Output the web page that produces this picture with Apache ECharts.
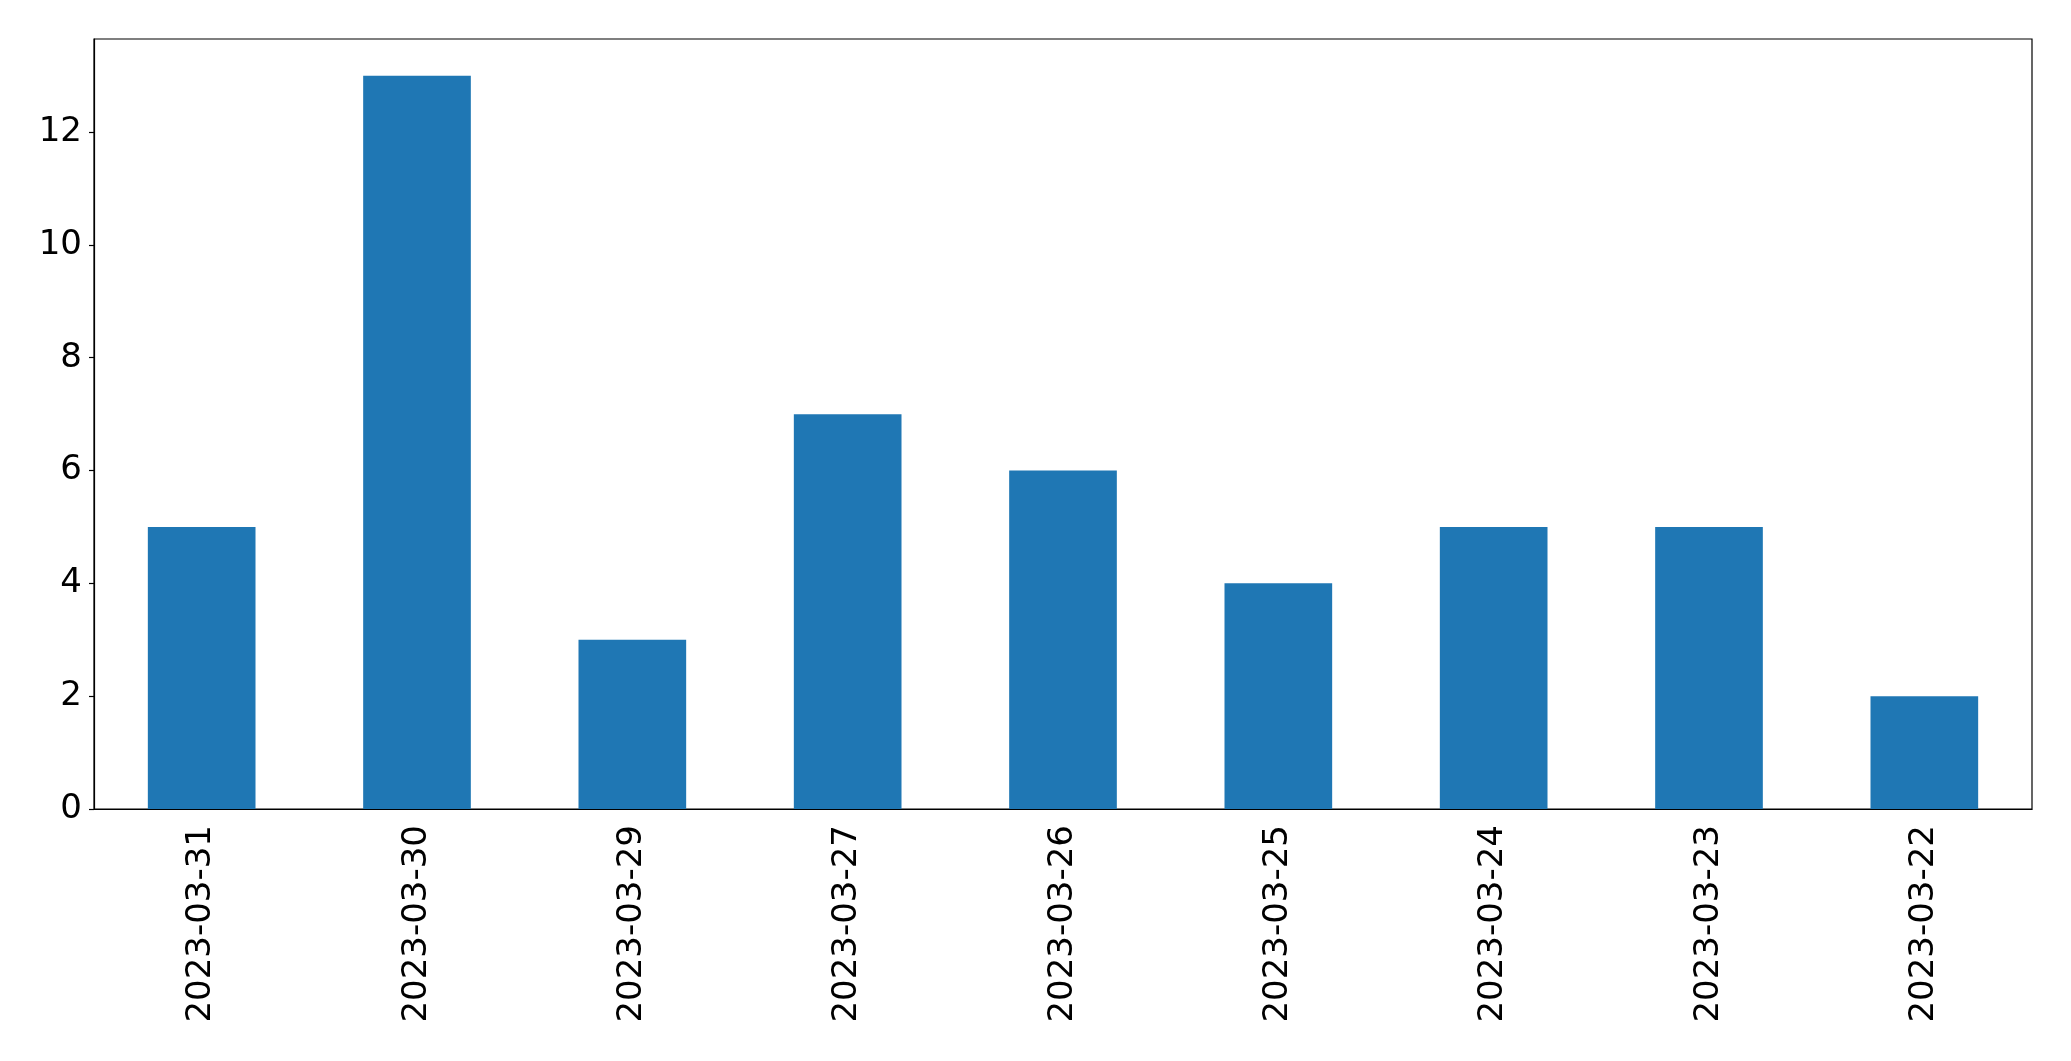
<!DOCTYPE html>
<html>
<head>
<meta charset="utf-8">
<script src="https://cdn.jsdelivr.net/npm/echarts@6/dist/echarts.min.js"></script>
<style>html,body{margin:0;padding:0;background:#fff}#c{width:2071px;height:1061px}</style>
</head>
<body>
<div id="c"></div>
<script>
const categories = ["2023-03-31","2023-03-30","2023-03-29","2023-03-27","2023-03-26","2023-03-25","2023-03-24","2023-03-23","2023-03-22"];
const values = [5, 13, 3, 7, 6, 4, 5, 5, 2];
const yTicks = [0, 2, 4, 6, 8, 10, 12];

const chart = echarts.init(document.getElementById('c'), null, {renderer: 'canvas'});
const font = 'DejaVu Sans';
chart.setOption({
  animation: false,
  backgroundColor: '#ffffff',
  grid: {left: 94, right: 39, top: 39, bottom: 252, show: true, borderColor: '#000', borderWidth: 1.2, backgroundColor: 'transparent'},
  xAxis: {
    type: 'category',
    data: categories,
    boundaryGap: true,
    axisLine: {lineStyle: {color: '#000', width: 1.2}},
    axisTick: {alignWithLabel: true, length: 5, lineStyle: {color: '#000', width: 1.2}},
    axisLabel: {rotate: 90, margin: 16, color: '#000', fontSize: 34, fontFamily: font}
  },
  yAxis: {
    type: 'value',
    min: 0, max: 13.65, interval: 2,
    splitLine: {show: false},
    axisLine: {show: true, lineStyle: {color: '#000', width: 1.2}},
    axisTick: {show: true, length: 5, lineStyle: {color: '#000', width: 1.2}},
    axisLabel: {margin: 12, color: '#000', fontSize: 34, fontFamily: font, showMaxLabel: false,
      formatter: v => yTicks.includes(v) ? String(v) : ''}
  },
  series: [{type: 'bar', data: values, barWidth: '50%', itemStyle: {color: '#1f77b4'}}]
});
</script>
</body>
</html>
